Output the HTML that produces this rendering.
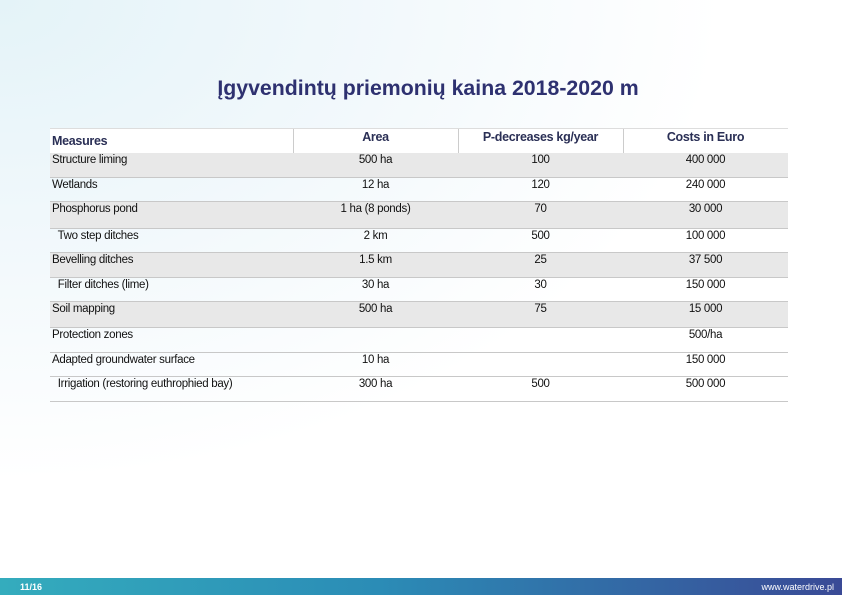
<!DOCTYPE html>
<html><head><meta charset="utf-8"><style>
body{margin:0;width:842px;height:595px;overflow:hidden;position:relative;font-family:"Liberation Sans",sans-serif;
background:radial-gradient(ellipse 900px 600px at 0% 0%,#e4f3f8 0%,#f3f9fc 45%,#ffffff 80%);}
.title{position:absolute;top:76px;left:0;width:856px;text-align:center;font-weight:bold;font-size:21.3px;color:#2e3170;}
.t{position:absolute;left:50px;top:128px;width:738px;}
.r{position:absolute;left:0;width:738px;border-bottom:1px solid #c8c8c8;font-size:11.5px;color:#111;letter-spacing:-0.3px}
.r span{position:absolute;top:1px;}
.g{background:#e8e8e8}
.c1{left:2px}
.c2{left:243px;width:165px;text-align:center}
.c3{left:408px;width:165px;text-align:center}
.c4{left:573px;width:165px;text-align:center}
.h{font-weight:bold;color:#2a2f55;font-size:12.5px;border-top:1px solid #ddd;background:#fff}
.h .d{position:absolute;top:0;bottom:0;width:1px;background:#ccc}
.foot{position:absolute;left:0;top:578px;width:842px;height:17px;background:linear-gradient(90deg,#34acbd,#2b8cb6 45%,#3a4a96);color:#fff;font-size:9px;font-weight:bold}
</style></head><body>
<div class="title">Įgyvendintų priemonių kaina 2018-2020 m</div>
<div class="t">
<div class="r h" style="top:0;height:25px">
<span class="c1" style="top:5px">Measures</span><span class="c2" style="top:1px">Area</span><span class="c3" style="top:1px">P-decreases kg/year</span><span class="c4" style="top:1px">Costs in Euro</span>
<div class="d" style="left:243px"></div><div class="d" style="left:408px"></div><div class="d" style="left:573px"></div></div>
<div class="r g" style="top:25px;height:24px"><span class="c1">Structure liming</span><span class="c2">500 ha</span><span class="c3">100</span><span class="c4">400 000</span></div>
<div class="r" style="top:50px;height:23px"><span class="c1">Wetlands</span><span class="c2">12 ha</span><span class="c3">120</span><span class="c4">240 000</span></div>
<div class="r g" style="top:74px;height:26px"><span class="c1">Phosphorus pond</span><span class="c2">1 ha (8 ponds)</span><span class="c3">70</span><span class="c4">30 000</span></div>
<div class="r" style="top:101px;height:23px"><span class="c1">&nbsp; Two step ditches</span><span class="c2">2 km</span><span class="c3">500</span><span class="c4">100 000</span></div>
<div class="r g" style="top:125px;height:24px"><span class="c1">Bevelling ditches</span><span class="c2">1.5 km</span><span class="c3">25</span><span class="c4">37 500</span></div>
<div class="r" style="top:150px;height:23px"><span class="c1">&nbsp; Filter ditches (lime)</span><span class="c2">30 ha</span><span class="c3">30</span><span class="c4">150 000</span></div>
<div class="r g" style="top:174px;height:25px"><span class="c1">Soil mapping</span><span class="c2">500 ha</span><span class="c3">75</span><span class="c4">15 000</span></div>
<div class="r" style="top:200px;height:24px"><span class="c1">Protection zones</span><span class="c4">500/ha</span></div>
<div class="r" style="top:225px;height:23px"><span class="c1">Adapted groundwater surface</span><span class="c2">10 ha</span><span class="c4">150 000</span></div>
<div class="r" style="top:249px;height:24px"><span class="c1">&nbsp; Irrigation (restoring euthrophied bay)</span><span class="c2">300 ha</span><span class="c3">500</span><span class="c4">500 000</span></div>
</div>
<div class="foot"><span style="position:absolute;left:20px;top:4px">11/16</span><span style="position:absolute;right:8px;top:4px;font-weight:normal">www.waterdrive.pl</span></div>
</body></html>
